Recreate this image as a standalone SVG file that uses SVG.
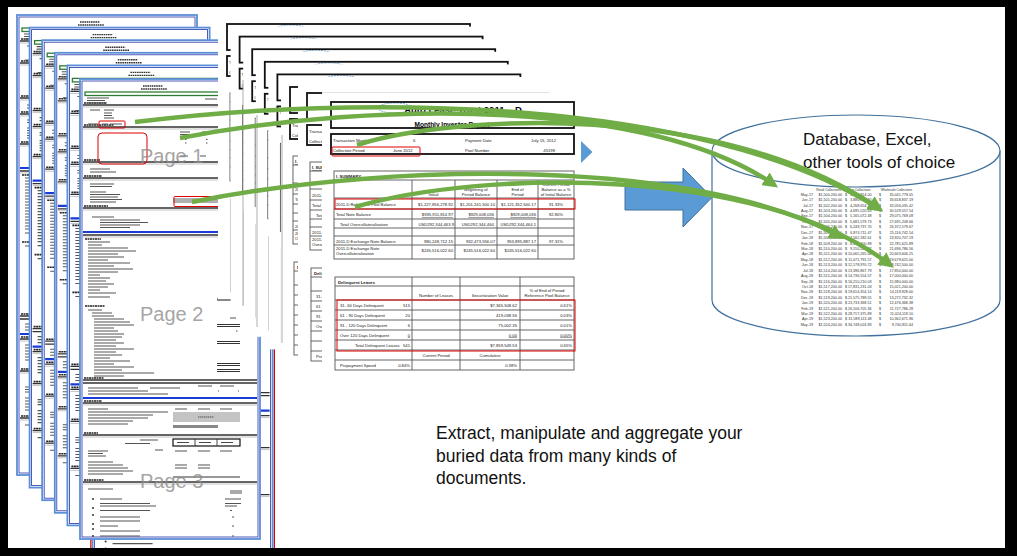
<svg xmlns="http://www.w3.org/2000/svg" xmlns:xlink="http://www.w3.org/1999/xlink" width="1017" height="556" viewBox="0 0 1017 556">
<style>
.t{font-family:'Liberation Sans',Arial,sans-serif}
.b{font-weight:bold}
.bx{fill:none;stroke:#111;stroke-width:1.8}
.tb{fill:none;stroke:#555;stroke-width:0.9}
.red{fill:none;stroke:#e00000;stroke-width:1}
.sb{fill:none;stroke:#333;stroke-width:1.3}
.sb2{fill:none;stroke:#aaa;stroke-width:0.7}
.hd{fill:none;stroke:#222;stroke-width:1.6;stroke-dasharray:2 .5}
.bl{fill:none;stroke:#1a3cd6;stroke-width:2.2}
.tx{fill:none;stroke:#555;stroke-width:1.05}
.rt{font-size:4.2px;fill:#222}
.ss{font-size:3.7px;fill:#333}
.sh{font-size:3.2px;fill:#333}
.pg{font-size:20px;fill:#8c8c8c;fill-opacity:.8}
.gr{fill:none;stroke:#70ad47;stroke-width:4.5;marker-end:url(#ah)}
</style>
<defs>
<marker id="ah" viewBox="0 0 10 10" refX="6" refY="5" markerWidth="3.4" markerHeight="3.4" orient="auto" markerUnits="strokeWidth"><path d="M0,0L10,5L0,10z" fill="#70ad47"/></marker>
<g id="lp">
<rect x="0" y="0" width="180" height="460" fill="#fff" stroke="#5a8fd8" stroke-width="1.8"/>
<rect x="2" y="2" width="176" height="456" fill="none" stroke="#2233aa" stroke-width="0.8"/>
<path d="M63,7h20M61,10h26" stroke="#333" stroke-width="1.4" stroke-dasharray="1.6 .6" fill="none"/>
<rect x="5" y="13" width="170" height="3.5" fill="#fff" stroke="#2e7d32" stroke-width="1.3"/>
<path class="sb" d="M3,26h174M3,48h174M3,83h174M3,99h174M3,129h174M3,156h174M3,301h174M3,304h174M3,324h174M3,356h174M3,403h174"/>
<path class="sb2" d="M3,28h174M3,50h174M3,85h174M3,101h174M3,131h174M3,158h174M3,326h174M3,358h174M3,405h174"/>
<path class="hd" d="M4,24h22M4,46h30M4,81h16M4,97h18M4,127h24M4,299h20M4,322h18M4,354h14M4,401h20M5,227h20M5,160h16"/>
<path class="bl" d="M3,153h174M3,319h174"/>
<path class="tx" d="M7,19h22M7,21.5h18M7,24h20M125,20h12M10,31h10M24,31h10M24,34h8M24,36.5h8M24,39h10M8,45h10M22,45h6M30,45h12M100,53h10M122,53h12M100,55.5h10M105,60.5h1.5M126,60.5h1.5M105,64h1.5M126,64h1.5M100,77h8M120,77h6M10,90h20M10,93h26M140,87h12M162,87h12M140,89.5h14M162,89.5h14M143,93h6M165,93h6M10,105h24M10,107.5h22M140,104h12M162,104h12M140,106.5h12M162,106.5h12M143,109h5M165,109h5M10,113h16M10,115.5h30M10,118h28M10,120.5h32M10,123h26M12,138h22M20,141h40M20,143.5h48M20,146h40M20,148.5h30M8,163h22M8,166h14M8,169h40M8,172h48M8,175h30M8,178h36M8,181h20M8,184h42M8,187h26M8,190h45M8,193h30M8,196h12M8,199h22M8,202h18M8,205h26M8,208h20M8,211h12M8,214h28M8,218h22M8,231h14M12,234h20M12,237h22M14,240h30M14,243h36M14,246h40M14,249h20M14,252h24M14,255h30M14,258h28M14,261h22M14,264h30M14,267h22M14,270h40M14,273h22M14,276h28M14,279h16M14,282h36M14,285h20M14,288h40M14,291h28M14,294h60M14,297h30M150,239h6M156,252h1.5M8,309h50M70,309h30M118,307h14M140,307h14M8,312h60M8,315h80M138,312h1M158,312h1M8,330h20M8,333h80M8,336h65M8,339h60M8,342h45M8,345h40M95,330h12M118,330h12M140,330h12M60,361h18M45,364.5h25M8,372h20M8,374.5h15M75,371h8M95,372h12M118,372h12M140,372h12M8,377h18M8,383h25M8,386h35M8,389h40M8,392h45M8,395h35M95,386h12M118,386h12M95,389h12M118,389h12M8,410h25M150,412h12M150,414h12M20,420h22M20,424.5h50M20,427h56M20,431.5h50M20,438h40M20,442h40M20,447h18M20,452h40M20,457h40M145,420h16M145,424.5h16M145,427h12M150,431.5h2M152,438h2M152,447h2M152,457h2"/>
<path d="M137,245.5h23M137,247.5h23M137,262.5h23M137,264.5h23M137,284.5h23M137,286.5h23M137,290.5h23M137,292.5h23M93,398h67" stroke="#333" stroke-width="1" fill="none"/>
<rect x="137" y="219" width="23" height="3" fill="#888"/>
<rect x="19" y="42" width="26" height="7" rx="1" class="red"/>
<rect x="18" y="54" width="49" height="31" rx="4" class="red"/>
<rect x="93" y="119" width="45" height="5" fill="#b0b0b0"/>
<rect x="94" y="117.5" width="45" height="10" rx="1" class="red"/>
<rect x="93" y="333" width="67" height="10" fill="#c4c4c4"/>
<path d="M118,338h16" stroke="#555" stroke-width="1.2" stroke-dasharray="1.5 .5"/>
<rect x="93" y="346" width="45" height="3" fill="#888"/>
<rect x="93" y="360" width="67" height="7" fill="none" stroke="#111" stroke-width="1.2"/>
<path d="M115,360v7M137,360v7M97,363.5h12M119,363.5h12M141,363.5h12" stroke="#333" stroke-width="0.9" fill="none"/>
<g fill="#333"><circle cx="13" cy="420" r="1"/><circle cx="13" cy="429" r="1"/><circle cx="13" cy="436" r="1"/><circle cx="13" cy="445" r="1"/><circle cx="13" cy="450" r="1"/><circle cx="13" cy="457" r="1"/></g>
</g>
<g id="rpt">
<rect width="262" height="285" fill="#fff"/>
<ellipse cx="73" cy="16" rx="17" ry="5" fill="none" stroke="#5b9bd5" stroke-width="0.8" stroke-dasharray="2 1"/>
<rect x="9" y="10" width="243" height="26" class="bx"/>
<text x="141" y="21" class="t b" font-size="9.5" text-anchor="middle">Auto Lease Trust 2011 – D</text>
<text x="130" y="34.5" class="t b" font-size="6.5" text-anchor="middle">Monthly Investor Report</text>
<rect x="9" y="42" width="243" height="20" class="bx"/>
<g class="t rt" font-size="4.5">
<text x="11" y="49.5">Transaction Month</text>
<text x="91" y="49.5">6</text>
<text x="143" y="49.5">Payment Date</text>
<text x="234" y="49.5" text-anchor="end">July 15, 2012</text>
<text x="11" y="60">Collection Period</text>
<text x="71" y="60">June 2012</text>
<text x="143" y="60">Pool Number</text>
<text x="233" y="60" text-anchor="end">45198</text>
</g>
<rect x="12" y="79" width="240" height="88" class="tb" stroke-width="1.3"/>
<path class="tb" d="M12,88h240M12,106h240M12,117h240M12,127h240M12,136h240M12,144h240M12,153h240M90,88v79M133,88v79M175,88v79M216,88v79"/>
<g class="t rt">
<text x="14" y="86" class="b" text-decoration="underline">I. SUMMARY</text>
<text x="111.5" y="104" text-anchor="middle">Initial</text>
<text x="154" y="99" text-anchor="middle">Beginning of</text>
<text x="154" y="104" text-anchor="middle">Period Balance</text>
<text x="195.5" y="99" text-anchor="middle">End of</text>
<text x="195.5" y="104" text-anchor="middle">Period</text>
<text x="234" y="93.5" text-anchor="middle">Current Period</text>
<text x="234" y="99" text-anchor="middle">Balance as a %</text>
<text x="234" y="104" text-anchor="middle">of Initial Balance</text>
<text x="14" y="113.5">2011-D Reference Pool Balance</text>
<text x="131" y="113.5" text-anchor="end">$1,227,856,278.92</text>
<text x="173" y="113.5" text-anchor="end">$1,201,241,500.10</text>
<text x="214" y="113.5" text-anchor="end">$1,121,352,500.17</text>
<text x="234" y="113.5" text-anchor="middle">91.33%</text>
<text x="14" y="124">Total Note Balance</text>
<text x="131" y="124" text-anchor="end" text-decoration="underline">$935,911,814.97</text>
<text x="172" y="124" text-anchor="end" text-decoration="underline">$929,008,036</text>
<text x="214" y="124" text-anchor="end" text-decoration="underline">$929,008,036</text>
<text x="234" y="124" text-anchor="middle">82.80%</text>
<text x="18" y="133.5">Total Overcollateralization</text>
<text x="132" y="133.5" text-anchor="end">USD292,344,463.9</text>
<text x="173" y="133.5" text-anchor="end">USD292,344,464.</text>
<text x="214" y="133.5" text-anchor="end">USD292,344,464.1</text>
<text x="14" y="150.5">2011-D Exchange Note Balance</text>
<text x="131" y="150.5" text-anchor="end">980,248,712.15</text>
<text x="173" y="150.5" text-anchor="end">932,473,556.07</text>
<text x="214" y="150.5" text-anchor="end">953,895,887.17</text>
<text x="234" y="150.5" text-anchor="middle">97.31%</text>
<text x="14" y="158">2011-D Exchange Note</text>
<text x="14" y="163">Overcollateralization</text>
<text x="131" y="160" text-anchor="end">$245,516,022.60</text>
<text x="173" y="160" text-anchor="end">$245,516,022.60</text>
<text x="214" y="160" text-anchor="end">$245,516,022.60</text>
</g>
<rect x="13" y="185" width="239" height="93" class="tb" stroke-width="1.3"/>
<path class="tb" d="M13,194h239M13,208h239M13,218h239M13,228h239M13,238h239M13,248h239M13,258h239M13,268h239M90,185v93M138,185v93M198,185v93"/>
<g class="t rt">
<text x="16" y="191.5" class="b">Delinquent Leases</text>
<text x="114" y="204.5" text-anchor="middle">Number of Leases</text>
<text x="168" y="204.5" text-anchor="middle">Securitization Value</text>
<text x="225" y="199.5" text-anchor="middle">% of End of Period</text>
<text x="225" y="204.5" text-anchor="middle">Reference Pool Balance</text>
<text x="18" y="214.5">31- 60 Days Delinquent</text>
<text x="88" y="214.5" text-anchor="end">515</text>
<text x="195" y="214.5" text-anchor="end">$7,365,508.62</text>
<text x="250" y="214.5" text-anchor="end">0.61%</text>
<text x="18" y="224.5">61 - 90 Days Delinquent</text>
<text x="88" y="224.5" text-anchor="end">20</text>
<text x="195" y="224.5" text-anchor="end">419,038.56</text>
<text x="250" y="224.5" text-anchor="end">0.03%</text>
<text x="18" y="234.5">91 - 120 Days Delinquent</text>
<text x="88" y="234.5" text-anchor="end">6</text>
<text x="195" y="234.5" text-anchor="end">75,002.35</text>
<text x="250" y="234.5" text-anchor="end">0.01%</text>
<text x="18" y="244.5">Over 120 Days Delinquent</text>
<text x="88" y="244.5" text-anchor="end" text-decoration="underline">0</text>
<text x="195" y="244.5" text-anchor="end" text-decoration="underline">0.00</text>
<text x="250" y="244.5" text-anchor="end" text-decoration="underline">0.00%</text>
<text x="33" y="254.5">Total Delinquent Leases</text>
<text x="88" y="254.5" text-anchor="end">541</text>
<text x="195" y="254.5" text-anchor="end">$7,859,549.53</text>
<text x="250" y="254.5" text-anchor="end">0.65%</text>
<text x="114" y="264.5" text-anchor="middle">Current Period</text>
<text x="168" y="264.5" text-anchor="middle">Cumulative</text>
<text x="18" y="274.5">Prepayment Speed</text>
<text x="88" y="274.5" text-anchor="end">0.84%</text>
<text x="195" y="274.5" text-anchor="end">0.38%</text>
</g>
</g>
</defs>
<rect x="0" y="0" width="1017" height="556" fill="#fff"/>
<g id="left-pages">
<use xlink:href="#lp" x="92.6" y="91.6"/>
<rect x="90.8" y="89.8" width="183.6" height="463.6" fill="none" stroke="#e00000" stroke-width="1.2"/>
<use xlink:href="#lp" x="17" y="15"/>
<use xlink:href="#lp" x="29.6" y="27.6"/>
<use xlink:href="#lp" x="42.2" y="40.2"/>
<use xlink:href="#lp" x="54.8" y="52.8"/>
<use xlink:href="#lp" x="67.4" y="65.4"/>
<use xlink:href="#lp" x="80" y="79"/>
<text x="140" y="163" class="t pg">Page 1</text>
<text x="140" y="321" class="t pg">Page 2</text>
<text x="140" y="488" class="t pg">Page 3</text>
</g>
<g id="report-pages">
<use xlink:href="#rpt" x="218" y="14"/>
<use xlink:href="#rpt" x="230.6" y="26.6"/>
<use xlink:href="#rpt" x="243.2" y="39.2"/>
<use xlink:href="#rpt" x="255.8" y="51.8"/>
<use xlink:href="#rpt" x="268.4" y="64.4"/>
<use xlink:href="#rpt" x="281" y="77"/>
<use xlink:href="#rpt" x="298" y="83"/>
<path d="M243,80V306M257,115V327M282,135V343" stroke="#999" stroke-width="0.8" fill="none"/>
<g id="report-front">
<use xlink:href="#rpt" x="322" y="92"/>
<path d="M322,92.5H550" stroke="#e2e2e2" stroke-width="1"/>
<rect x="332" y="147" width="88" height="9" rx="1" class="red"/>
<rect x="335" y="199" width="240" height="10" class="red"/>
<rect x="337" y="300" width="238" height="51" class="red"/>
</g>
</g>
<g id="database">
<path d="M712,151V300A144,36 0 0 0 1000,300V151" fill="#fff" stroke="#41719c" stroke-width="1.2"/>
<ellipse cx="856" cy="151" rx="144" ry="36" fill="#fff" stroke="#41719c" stroke-width="1.2"/>
<text x="803" y="145" class="t" font-size="17" fill="#111">Database, Excel,</text>
<text x="803" y="168" class="t" font-size="17" fill="#111">other tools of choice</text>
<g class="t sh">
<text x="828.5" y="190.5" text-anchor="middle">Retail Collections</text>
<text x="858" y="190.5" text-anchor="middle">Lease Collections</text>
<text x="896.5" y="190.5" text-anchor="middle">Wholesale Collections</text>
</g>
<g class="t ss">
<text text-anchor="end"><tspan x="813" y="195.8">May-17</tspan><tspan x="813" dy="5.42">Jun-17</tspan><tspan x="813" dy="5.42">Jul-17</tspan><tspan x="813" dy="5.42">Aug-17</tspan><tspan x="813" dy="5.42">Sep-17</tspan><tspan x="813" dy="5.42">Oct-17</tspan><tspan x="813" dy="5.42">Nov-17</tspan><tspan x="813" dy="5.42">Dec-17</tspan><tspan x="813" dy="5.42">Jan-18</tspan><tspan x="813" dy="5.42">Feb-18</tspan><tspan x="813" dy="5.42">Mar-18</tspan><tspan x="813" dy="5.42">Apr-18</tspan><tspan x="813" dy="5.42">May-18</tspan><tspan x="813" dy="5.42">Jun-18</tspan><tspan x="813" dy="5.42">Jul-18</tspan><tspan x="813" dy="5.42">Aug-18</tspan><tspan x="813" dy="5.42">Sep-18</tspan><tspan x="813" dy="5.42">Oct-18</tspan><tspan x="813" dy="5.42">Nov-18</tspan><tspan x="813" dy="5.42">Dec-18</tspan><tspan x="813" dy="5.42">Jan-19</tspan><tspan x="813" dy="5.42">Feb-19</tspan><tspan x="813" dy="5.42">Mar-19</tspan><tspan x="813" dy="5.42">Apr-19</tspan><tspan x="813" dy="5.42">May-19</tspan></text>
<text text-anchor="end"><tspan x="842" y="195.8">$1,500,200.00</tspan><tspan x="842" dy="5.42">$1,501,200.00</tspan><tspan x="842" dy="5.42">$1,502,200.00</tspan><tspan x="842" dy="5.42">$1,503,200.00</tspan><tspan x="842" dy="5.42">$1,504,200.00</tspan><tspan x="842" dy="5.42">$1,505,200.00</tspan><tspan x="842" dy="5.42">$1,506,200.00</tspan><tspan x="842" dy="5.42">$1,507,200.00</tspan><tspan x="842" dy="5.42">$1,508,200.00</tspan><tspan x="842" dy="5.42">$1,509,200.00</tspan><tspan x="842" dy="5.42">$1,510,200.00</tspan><tspan x="842" dy="5.42">$1,511,200.00</tspan><tspan x="842" dy="5.42">$1,512,200.00</tspan><tspan x="842" dy="5.42">$1,513,200.00</tspan><tspan x="842" dy="5.42">$1,514,200.00</tspan><tspan x="842" dy="5.42">$1,515,200.00</tspan><tspan x="842" dy="5.42">$1,516,200.00</tspan><tspan x="842" dy="5.42">$1,517,200.00</tspan><tspan x="842" dy="5.42">$1,518,200.00</tspan><tspan x="842" dy="5.42">$1,519,200.00</tspan><tspan x="842" dy="5.42">$1,520,200.00</tspan><tspan x="842" dy="5.42">$1,521,200.00</tspan><tspan x="842" dy="5.42">$1,522,200.00</tspan><tspan x="842" dy="5.42">$1,523,200.00</tspan><tspan x="842" dy="5.42">$1,524,200.00</tspan></text>
<text><tspan x="845" y="195.8">$</tspan><tspan x="845" dy="5.42">$</tspan><tspan x="845" dy="5.42">$</tspan><tspan x="845" dy="5.42">$</tspan><tspan x="845" dy="5.42">$</tspan><tspan x="845" dy="5.42">$</tspan><tspan x="845" dy="5.42">$</tspan><tspan x="845" dy="5.42">$</tspan><tspan x="845" dy="5.42">$</tspan><tspan x="845" dy="5.42">$</tspan><tspan x="845" dy="5.42">$</tspan><tspan x="845" dy="5.42">$</tspan><tspan x="845" dy="5.42">$</tspan><tspan x="845" dy="5.42">$</tspan><tspan x="845" dy="5.42">$</tspan><tspan x="845" dy="5.42">$</tspan><tspan x="845" dy="5.42">$</tspan><tspan x="845" dy="5.42">$</tspan><tspan x="845" dy="5.42">$</tspan><tspan x="845" dy="5.42">$</tspan><tspan x="845" dy="5.42">$</tspan><tspan x="845" dy="5.42">$</tspan><tspan x="845" dy="5.42">$</tspan><tspan x="845" dy="5.42">$</tspan><tspan x="845" dy="5.42">$</tspan></text>
<text text-anchor="end"><tspan x="871.5" y="195.8">3,527,814.00</tspan><tspan x="871.5" dy="5.42">3,880,595.40</tspan><tspan x="871.5" dy="5.42">4,268,654.94</tspan><tspan x="871.5" dy="5.42">4,695,520.43</tspan><tspan x="871.5" dy="5.42">5,165,072.48</tspan><tspan x="871.5" dy="5.42">5,681,579.73</tspan><tspan x="871.5" dy="5.42">6,249,737.70</tspan><tspan x="871.5" dy="5.42">6,874,711.47</tspan><tspan x="871.5" dy="5.42">7,562,182.61</tspan><tspan x="871.5" dy="5.42">8,318,400.88</tspan><tspan x="871.5" dy="5.42">9,150,240.97</tspan><tspan x="871.5" dy="5.42">10,065,265.06</tspan><tspan x="871.5" dy="5.42">11,071,791.57</tspan><tspan x="871.5" dy="5.42">12,178,970.72</tspan><tspan x="871.5" dy="5.42">13,396,867.79</tspan><tspan x="871.5" dy="5.42">14,736,554.57</tspan><tspan x="871.5" dy="5.42">16,210,210.03</tspan><tspan x="871.5" dy="5.42">17,831,231.03</tspan><tspan x="871.5" dy="5.42">19,614,354.14</tspan><tspan x="871.5" dy="5.42">21,575,789.55</tspan><tspan x="871.5" dy="5.42">23,733,368.51</tspan><tspan x="871.5" dy="5.42">26,106,705.36</tspan><tspan x="871.5" dy="5.42">28,717,375.89</tspan><tspan x="871.5" dy="5.42">31,589,113.48</tspan><tspan x="871.5" dy="5.42">34,748,024.83</tspan></text>
<text><tspan x="879" y="195.8">$</tspan><tspan x="879" dy="5.42">$</tspan><tspan x="879" dy="5.42">$</tspan><tspan x="879" dy="5.42">$</tspan><tspan x="879" dy="5.42">$</tspan><tspan x="879" dy="5.42">$</tspan><tspan x="879" dy="5.42">$</tspan><tspan x="879" dy="5.42">$</tspan><tspan x="879" dy="5.42">$</tspan><tspan x="879" dy="5.42">$</tspan><tspan x="879" dy="5.42">$</tspan><tspan x="879" dy="5.42">$</tspan><tspan x="879" dy="5.42">$</tspan><tspan x="879" dy="5.42">$</tspan><tspan x="879" dy="5.42">$</tspan><tspan x="879" dy="5.42">$</tspan><tspan x="879" dy="5.42">$</tspan><tspan x="879" dy="5.42">$</tspan><tspan x="879" dy="5.42">$</tspan><tspan x="879" dy="5.42">$</tspan><tspan x="879" dy="5.42">$</tspan><tspan x="879" dy="5.42">$</tspan><tspan x="879" dy="5.42">$</tspan><tspan x="879" dy="5.42">$</tspan><tspan x="879" dy="5.42">$</tspan></text>
<text text-anchor="end"><tspan x="913" y="195.8">35,041,779.05</tspan><tspan x="913" dy="5.42">33,658,837.19</tspan><tspan x="913" dy="5.42">32,056,035.42</tspan><tspan x="913" dy="5.42">30,529,557.54</tspan><tspan x="913" dy="5.42">29,075,769.09</tspan><tspan x="913" dy="5.42">27,691,208.66</tspan><tspan x="913" dy="5.42">26,372,579.67</tspan><tspan x="913" dy="5.42">25,116,742.54</tspan><tspan x="913" dy="5.42">23,920,707.19</tspan><tspan x="913" dy="5.42">22,781,625.89</tspan><tspan x="913" dy="5.42">21,696,786.56</tspan><tspan x="913" dy="5.42">20,663,606.25</tspan><tspan x="913" dy="5.42">19,679,625.00</tspan><tspan x="913" dy="5.42">18,742,500.00</tspan><tspan x="913" dy="5.42">17,850,000.00</tspan><tspan x="913" dy="5.42">17,000,000.00</tspan><tspan x="913" dy="5.42">15,980,000.00</tspan><tspan x="913" dy="5.42">15,021,200.00</tspan><tspan x="913" dy="5.42">14,119,928.00</tspan><tspan x="913" dy="5.42">13,272,732.32</tspan><tspan x="913" dy="5.42">12,476,368.38</tspan><tspan x="913" dy="5.42">11,727,786.28</tspan><tspan x="913" dy="5.42">11,024,119.10</tspan><tspan x="913" dy="5.42">10,362,671.96</tspan><tspan x="913" dy="5.42">9,740,911.64</tspan></text>
</g>
</g>
<g id="blue-arrows">
<path d="M625,182H683V168L712,197.5L683,227V210H625Z" fill="#5b9bd5" stroke="#41719c" stroke-width="1"/>
<path d="M581,141L592.5,152L581,163Z" fill="#5b9bd5"/>
</g>
<g id="connectors">
<path class="gr" d="M135,122C350,95 700,95 878,208"/>
<path class="gr" d="M180,138C380,100 650,100 773,184"/>
<path class="gr" d="M357,145C450,115 720,100 878,208"/>
<path class="gr" d="M192,202C400,160 700,160 839,236"/>
<path class="gr" d="M355,207C480,170 760,165 889,264"/>
</g>
<g id="caption" class="t" font-size="17.5" fill="#111">
<text x="436" y="439">Extract, manipulate and aggregate your</text>
<text x="436" y="461.5">buried data from many kinds of</text>
<text x="436" y="483.5">documents.</text>
</g>
<path id="frame" fill="#000" fill-rule="evenodd" d="M0,0H1017V556H0Z M8,7V548H1005V7Z"/>
</svg>
